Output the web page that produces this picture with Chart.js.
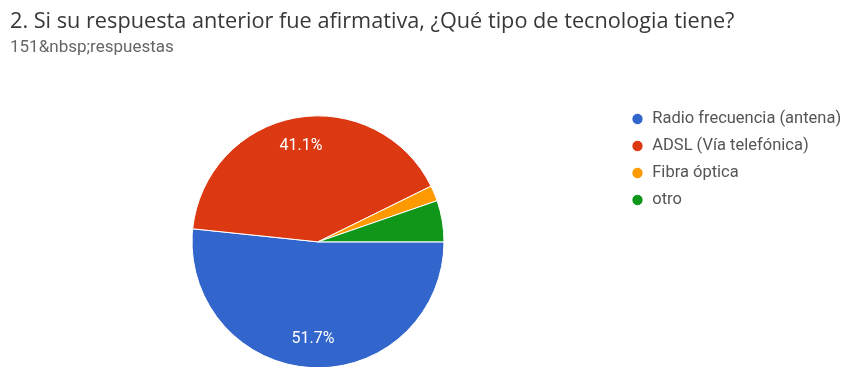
<!DOCTYPE html>
<html lang="es">
<head>
<meta charset="utf-8">
<title>Tipo de tecnología</title>
<script src="https://cdn.jsdelivr.net/npm/chart.js@4.4.1/dist/chart.umd.min.js"></script>
<style>
  html, body { margin: 0; padding: 0; background: #fff; overflow: hidden; }
  canvas { display: block; }
</style>
</head>
<body>
<canvas id="grafica" width="849" height="400"></canvas>
<script>
const titulo = '2. Si su respuesta anterior fue afirmativa, ¿Qué tipo de tecnologia tiene?';
const subtitulo = '151&nbsp;respuestas';
const categorias = ['Radio frecuencia (antena)', 'ADSL (Vía telefónica)', 'Fibra óptica', 'otro'];
const respuestas = [78, 62, 3, 8];
const colores = ['#3366cc', '#dc3912', '#ff9900', '#109618'];

const total = respuestas.reduce((a, b) => a + b, 0);

// porcentajes dentro de las porciones grandes
const etiquetasPorcentaje = {
  id: 'etiquetasPorcentaje',
  afterDatasetsDraw(chart) {
    const ctx = chart.ctx;
    const meta = chart.getDatasetMeta(0);
    ctx.save();
    ctx.fillStyle = '#fff';
    ctx.font = '16px Roboto';
    ctx.textAlign = 'center';
    ctx.textBaseline = 'middle';
    meta.data.forEach((arco, i) => {
      const pct = respuestas[i] / total * 100;
      if (pct < 10) return; // las porciones chicas quedan sin texto
      const medio = (arco.startAngle + arco.endAngle) / 2;
      const r = arco.outerRadius * 0.77;
      ctx.fillText(pct.toFixed(1) + '%', arco.x + Math.cos(medio) * r, arco.y + Math.sin(medio) * r);
    });
    ctx.restore();
  }
};

// corre la leyenda un poco a la izquierda sin mover el área del gráfico
const moverLeyenda = {
  id: 'moverLeyenda',
  afterLayout(chart) {
    chart.legend.left -= 5.5;
    chart.legend.right -= 5.5;
  }
};

const ctx = document.getElementById('grafica').getContext('2d');

const grafica = new Chart(ctx, {
  type: 'pie',
  data: {
    labels: categorias,
    datasets: [{
      data: respuestas,
      backgroundColor: colores,
      borderColor: '#fff',
      borderWidth: 1,
      radius: 126
    }]
  },
  options: {
    responsive: false,
    animation: false,
    events: [],
    rotation: 90,
    layout: {
      padding: { left: 10, right: 0, top: 0, bottom: 16.5 }
    },
    plugins: {
      title: {
        display: true,
        text: titulo,
        align: 'start',
        color: '#383838',
        font: { family: '"Open Sans"', size: 21.7, weight: 'normal' },
        padding: { top: 9, bottom: 0 }
      },
      subtitle: {
        display: true,
        text: subtitulo,
        align: 'start',
        color: '#666',
        font: { family: 'Roboto', size: 17 },
        padding: { top: 3, bottom: 41.8 }
      },
      legend: {
        position: 'right',
        align: 'start',
        fullSize: false,
        maxWidth: 223,
        labels: {
          usePointStyle: true,
          pointStyle: 'circle',
          boxWidth: 13,
          boxHeight: 8,
          padding: 10.5,
          color: '#555',
          font: { family: 'Roboto', size: 16.5 }
        }
      },
      tooltip: { enabled: false }
    }
  },
  plugins: [etiquetasPorcentaje, moverLeyenda]
});
</script>
</body>
</html>
